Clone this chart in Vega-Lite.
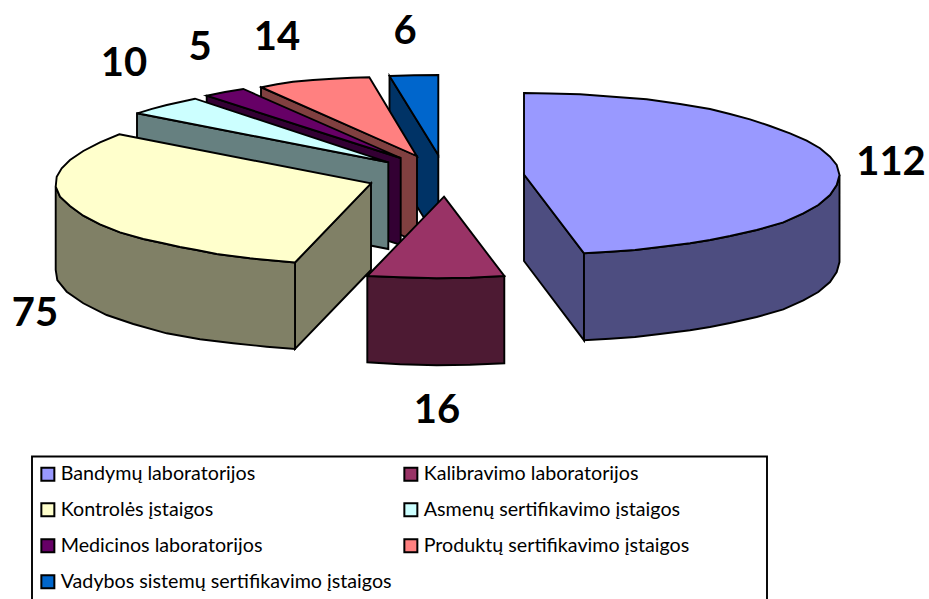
{"$schema":"https://vega.github.io/schema/vega-lite/v6.json","width":929,"height":599,"padding":0,"autosize":"none","background":"white","config":{"view":{"stroke":null}},"projection":{"type":"identity","scale":1,"translate":[0,0]},"layer":[{"data":{"values":[
{"type":"Feature","properties":{"part":"Legendos rėmas"},"geometry":{"type":"Polygon","coordinates":[[[32,456.5],[767,456.5],[767,640],[32,640],[32,456.5]]]}},
{"type":"Feature","properties":{"part":"Vadybos šonas"},"geometry":{"type":"Polygon","coordinates":[[[389.5,76],[438.3,155],[438.3,241],[389.5,162],[389.5,76]]]}},
{"type":"Feature","properties":{"part":"Vadybos sistemų sertifikavimo įstaigos"},"geometry":{"type":"Polygon","coordinates":[[[389.5,76],[414,75.3],[438.3,75],[438.3,155],[389.5,76]]]}},
{"type":"Feature","properties":{"part":"Produktų šonas"},"geometry":{"type":"Polygon","coordinates":[[[261,87.3],[417,156],[417,242],[261,173],[261,87.3]]]}},
{"type":"Feature","properties":{"part":"Produktų sertifikavimo įstaigos"},"geometry":{"type":"Polygon","coordinates":[[[261.7,87.3],[277,84.3],[293,81.7],[313,80],[333,78.7],[352,77.8],[369.3,77.3],[416.7,156],[261.7,87.3]]]}},
{"type":"Feature","properties":{"part":"Medicinos šonas"},"geometry":{"type":"Polygon","coordinates":[[[206.7,95.7],[400.7,158],[400.7,245],[206.7,182],[206.7,95.7]]]}},
{"type":"Feature","properties":{"part":"Medicinos laboratorijos"},"geometry":{"type":"Polygon","coordinates":[[[206.7,95.7],[225,92],[243.3,89],[400.7,158],[206.7,95.7]]]}},
{"type":"Feature","properties":{"part":"Asmenų šonas"},"geometry":{"type":"Polygon","coordinates":[[[137,113.3],[388.3,162.3],[388.3,249],[137,200],[137,113.3]]]}},
{"type":"Feature","properties":{"part":"Asmenų sertifikavimo įstaigos"},"geometry":{"type":"Polygon","coordinates":[[[137.3,113.3],[152,108.8],[166.7,105],[195,98.7],[388.3,162.3],[137.3,113.3]]]}},
{"type":"Feature","properties":{"part":"Kontrolės vidus"},"geometry":{"type":"Polygon","coordinates":[[[295,262.5],[371,183.3],[371,270],[295,349],[295,262.5]]]}},
{"type":"Feature","properties":{"part":"Kontrolės šonas"},"geometry":{"type":"Polygon","coordinates":[[[55.7,186.7],[60,196.7],[70,206],[83.3,215.7],[100,224.3],[120,232.3],[143.3,239],[163.3,243.3],[180,247],[196.7,250],[216.7,254],[250,258.3],[295,262.5],[295,349],[266.7,346.7],[233.3,343.3],[200,339.3],[166.7,333.3],[133.3,324],[106.7,315],[83.3,303.3],[66.7,291.7],[57.3,280],[55.7,270],[55.7,186.7]]]}},
{"type":"Feature","properties":{"part":"Kontrolės įstaigos"},"geometry":{"type":"Polygon","coordinates":[[[119.3,134.3],[371,183.3],[295,262.5],[250,258.3],[216.7,254],[196.7,250],[180,247],[163.3,243.3],[143.3,239],[120,232.3],[100,224.3],[83.3,215.7],[70,206],[60,196.7],[55.7,186.7],[56.7,176.7],[61.7,168.3],[70,160],[83.3,151],[100,142.3],[119.3,134.3]]]}},
{"type":"Feature","properties":{"part":"Kalibravimo šonas"},"geometry":{"type":"Polygon","coordinates":[[[367.3,276],[400,277.3],[436.7,278.3],[470,277.7],[504.3,276],[504.3,363.3],[470,364.7],[436.7,365.3],[400,364.3],[367.3,362.3],[367.3,276]]]}},
{"type":"Feature","properties":{"part":"Kalibravimo laboratorijos"},"geometry":{"type":"Polygon","coordinates":[[[444,196.7],[504.3,276],[470,277.7],[436.7,278.3],[400,277.3],[367.3,276],[444,196.7]]]}},
{"type":"Feature","properties":{"part":"Bandymų vidus"},"geometry":{"type":"Polygon","coordinates":[[[524,174.5],[584,253.3],[584,340.3],[524,261],[524,174.5]]]}},
{"type":"Feature","properties":{"part":"Bandymų šonas"},"geometry":{"type":"Polygon","coordinates":[[[584,253.3],[610,251.8],[635,250],[660,247],[690,243.3],[710,240],[730,236],[756.7,230],[783.3,222.3],[803.3,213.3],[818.3,205],[830,195],[836.7,185],[839.5,175],[839.5,262],[836.7,272],[830,282],[818.3,292],[803.3,300.3],[783.3,309.3],[756.7,317],[730,323],[710,327],[690,330.3],[660,334],[635,337],[610,338.8],[584,340.3],[584,253.3]]]}},
{"type":"Feature","properties":{"part":"Bandymų laboratorijos"},"geometry":{"type":"Polygon","coordinates":[[[524,93],[550,93.5],[580,94.3],[613,96.7],[646.7,99.3],[680,104],[710,109],[730,114],[750,119.3],[770,126],[790,133.3],[806.7,140.7],[820,148.3],[830,156.7],[836.7,165],[839.5,175],[836.7,185],[830,195],[818.3,205],[803.3,213.3],[783.3,222.3],[756.7,230],[730,236],[710,240],[690,243.3],[660,247],[635,250],[610,251.8],[584,253.3],[524,174.5],[524,93]]]}}
]},"mark":{"type":"geoshape","stroke":"black","strokeWidth":1.9,"strokeJoin":"miter"},"encoding":{"fill":{"field":"properties.part","type":"nominal","scale":{"domain":["Bandymų laboratorijos","Kalibravimo laboratorijos","Kontrolės įstaigos","Asmenų sertifikavimo įstaigos","Medicinos laboratorijos","Produktų sertifikavimo įstaigos","Vadybos sistemų sertifikavimo įstaigos","Bandymų šonas","Bandymų vidus","Kalibravimo šonas","Kontrolės šonas","Kontrolės vidus","Asmenų šonas","Medicinos šonas","Produktų šonas","Vadybos šonas","Legendos rėmas"],"range":["#9999FF","#993366","#FFFFCC","#CCFFFF","#660066","#FF8080","#0066CC","#4D4D80","#4D4D80","#4D1A33","#808066","#808066","#668080","#330033","#804040","#003366","#FFFFFF"]},"legend":{"values":["Bandymų laboratorijos","Kalibravimo laboratorijos","Kontrolės įstaigos","Asmenų sertifikavimo įstaigos","Medicinos laboratorijos","Produktų sertifikavimo įstaigos","Vadybos sistemų sertifikavimo įstaigos"],"title":null,"orient":"none","legendX":38,"legendY":464,"direction":"horizontal","columns":2,"columnPadding":8,"rowPadding":14,"symbolType":"square","symbolSize":169,"symbolStrokeColor":"black","symbolStrokeWidth":2,"labelFont":"Lato","labelFontSize":19.7,"labelColor":"black","labelLimit":500,"labelOffset":3}}}},
{"data":{"values":[
{"kategorija":"Bandymų laboratorijos","kiekis":112,"lon":891,"lat":163},
{"kategorija":"Kalibravimo laboratorijos","kiekis":16,"lon":437,"lat":411},
{"kategorija":"Kontrolės įstaigos","kiekis":75,"lon":35,"lat":314},
{"kategorija":"Asmenų sertifikavimo įstaigos","kiekis":10,"lon":124,"lat":64},
{"kategorija":"Medicinos laboratorijos","kiekis":5,"lon":200,"lat":48},
{"kategorija":"Produktų sertifikavimo įstaigos","kiekis":14,"lon":277,"lat":38},
{"kategorija":"Vadybos sistemų sertifikavimo įstaigos","kiekis":6,"lon":405,"lat":32}
]},"mark":{"type":"text","font":"Lato","fontWeight":"bold","fontSize":40,"color":"black","align":"center","baseline":"middle"},"encoding":{"longitude":{"field":"lon","type":"quantitative"},"latitude":{"field":"lat","type":"quantitative"},"text":{"field":"kiekis","type":"quantitative"}}}
]}
